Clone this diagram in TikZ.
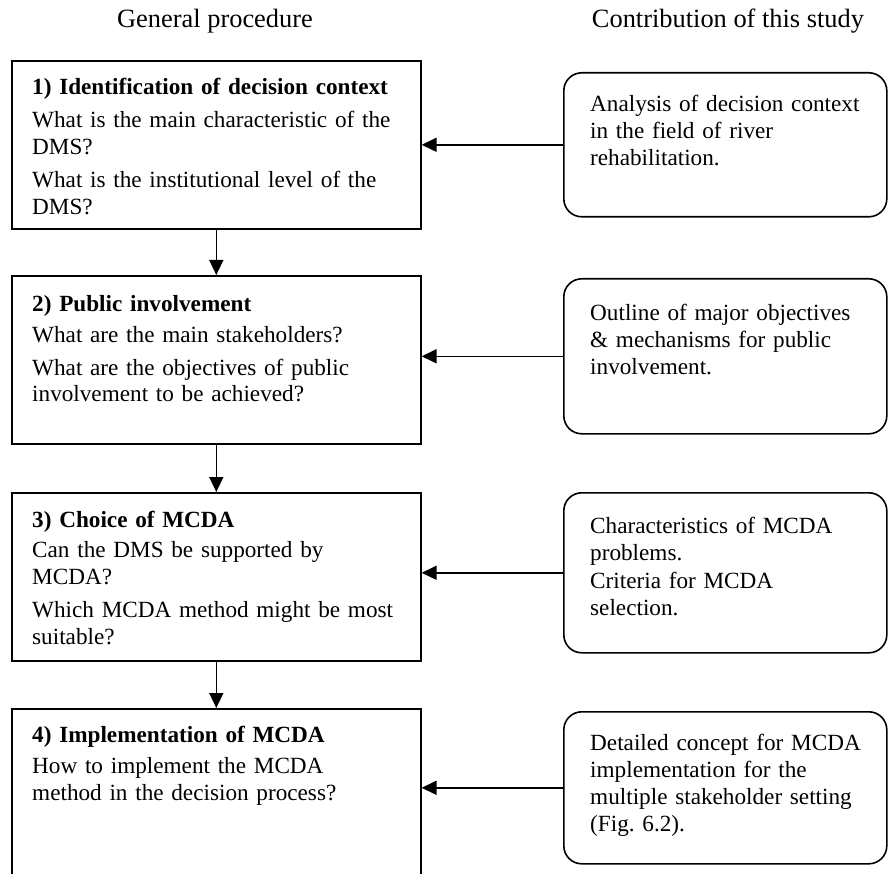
\documentclass[tikz,border=0pt]{standalone}
\usepackage{fontspec}
\setmainfont{Liberation Serif}
\usetikzlibrary{arrows.meta}
\frenchspacing
\begin{document}
\begin{tikzpicture}[x=1pt,y=-1pt,
  procbox/.style={draw,line width=1.6pt,inner sep=0pt,anchor=north west,minimum width=409pt,minimum height=168pt},
  contribbox/.style={draw,line width=1.6pt,inner sep=0pt,anchor=north west,rounded corners=18pt,minimum width=323pt},
  boxtext/.style={anchor=base west,inner sep=0pt,text width=400pt,align=left,font=\fontsize{23.2}{27}\selectfont},
  headtext/.style={anchor=base,inner sep=0pt,font=\fontsize{26.4}{30}\selectfont},
  arr/.style={line width=1.6pt,-{Triangle[length=15pt,width=14pt]}}]
\useasboundingbox (0,0) rectangle (888,874);
\clip (0,0) rectangle (888,874);
\fill[white] (0,0) rectangle (888,874);

\node[headtext] (h1) at (215,28) {General procedure};
\node[headtext] (h2) at (728,28) {Contribution of this study};

\node[procbox] (b1) at (11,60) {};
\node[procbox] (b2) at (11,275) {};
\node[procbox] (b3) at (11,492) {};
\node[procbox] (b4) at (11,708) {};

\node[boxtext] (t1) at (32,95) {\textbf{1) Identification of decision context}\\[6pt]
What is the main characteristic of the\\DMS?\\[6pt]
What is the institutional level of the\\DMS?};
\node[boxtext] (t2) at (32,312) {\textbf{2) Public involvement}\\[4pt]
What are the main stakeholders?\\[5pt]
What are the objectives of public\\involvement to be achieved?};
\node[boxtext] (t3) at (32,527) {\textbf{3) Choice of MCDA}\\[3pt]
Can the DMS be supported by\\MCDA?\\[6pt]
Which MCDA method might be most\\suitable?};
\node[boxtext] (t4) at (32,742) {\textbf{4) Implementation of MCDA}\\[4pt]
How to implement the MCDA\\method in the decision process?};

\node[contribbox,minimum height=144pt] (r1) at (563,72) {};
\node[contribbox,minimum height=155pt] (r2) at (563,278) {};
\node[contribbox,minimum height=160pt] (r3) at (563,492) {};
\node[contribbox,minimum height=152pt] (r4) at (563,711) {};

\node[boxtext] (s1) at (590,112) {Analysis of decision context\\in the field of river\\rehabilitation.};
\node[boxtext] (s2) at (590,320) {Outline of major objectives\\\&{} mechanisms for public\\involvement.};
\node[boxtext] (s3) at (590,533) {Characteristics of MCDA\\problems.\\[1pt]Criteria for MCDA\\selection.};
\node[boxtext] (s4) at (590,750) {Detailed concept for MCDA\\implementation for the\\multiple stakeholder setting\\(Fig. 6.2).};

\draw[arr] (b1.south) -- (b2.north);
\draw[arr] (b2.south) -- (b3.north);
\draw[arr] (b3.south) -- (b4.north);

\draw[arr] (r1.west) -- (r1.west -| b1.east);
\draw[arr] (r2.west) -- (r2.west -| b2.east);
\draw[arr] (r3.west) -- (r3.west -| b3.east);
\draw[arr] (r4.west) -- (r4.west -| b4.east);
\end{tikzpicture}
\end{document}
